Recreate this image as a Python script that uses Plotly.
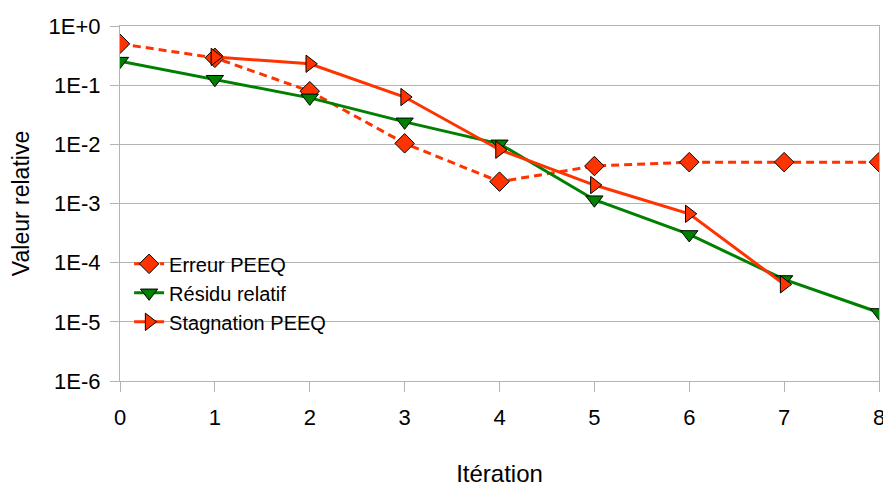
import plotly.graph_objects as go

iterations = [0, 1, 2, 3, 4, 5, 6, 7, 8]
erreur_peeq = [0.50, 0.29, 0.079, 0.0104, 0.00234, 0.0043, 0.0050, 0.0050, 0.0050]
residu_relatif = [0.255, 0.126, 0.061, 0.024, 0.0102, 0.00116, 0.00030, 5.2e-5, 1.44e-5]
stagnation_peeq = [None, 0.30, 0.23, 0.063, 0.0081, 0.00205, 6.7e-4, 4.3e-5, None]

y_tickvals = [1, 1e-1, 1e-2, 1e-3, 1e-4, 1e-5, 1e-6]
y_ticktext = ["1E+0", "1E-1", "1E-2", "1E-3", "1E-4", "1E-5", "1E-6"]
x_ticks = [0, 1, 2, 3, 4, 5, 6, 7, 8]

RED = "#ff3300"
GREEN = "#008000"
FONT = "Liberation Sans, Arial, sans-serif"

fig = go.Figure()
fig.add_trace(go.Scatter(
    x=iterations, y=erreur_peeq, name="Erreur PEEQ", mode="lines+markers",
    line=dict(color=RED, width=3, dash="8px,5px"),
    marker=dict(symbol="diamond", size=15, color=RED, line=dict(color="black", width=1)),
))
fig.add_trace(go.Scatter(
    x=iterations, y=residu_relatif, name="Résidu relatif", mode="lines+markers",
    line=dict(color=GREEN, width=3),
    marker=dict(symbol="triangle-down", size=15, color=GREEN, line=dict(color="black", width=1)),
))
fig.add_trace(go.Scatter(
    x=iterations, y=stagnation_peeq, name="Stagnation PEEQ", mode="lines+markers",
    line=dict(color=RED, width=3),
    marker=dict(symbol="triangle-right", size=15, color=RED, line=dict(color="black", width=1)),
))

fig.update_layout(
    width=883, height=480,
    margin=dict(l=111, r=6, t=12, b=89),
    paper_bgcolor="white", plot_bgcolor="white",
    font=dict(family=FONT, size=20, color="black"),
    showlegend=True,
    legend=dict(x=0.012, y=0.385, xanchor="left", yanchor="top",
                bgcolor="rgba(0,0,0,0)", font=dict(size=20, color="black"),
                tracegroupgap=0, itemwidth=30),
    xaxis=dict(
        range=[0, 8], tickvals=x_ticks, ticktext=[str(v) for v in x_ticks],
        showgrid=False, zeroline=False,
        showline=True, linecolor="#b3b3b3", linewidth=1, mirror=True,
        ticks="outside", ticklen=10, tickcolor="#b3b3b3",
        ticklabelstandoff=7, ticklabeloverflow="allow",
        title=dict(text="Itération", font=dict(size=24), standoff=35),
        tickfont=dict(size=22),
    ),
    yaxis=dict(
        type="log", range=[-6, 0], tickvals=y_tickvals, ticktext=y_ticktext,
        showgrid=True, gridcolor="#b3b3b3", gridwidth=1, zeroline=False,
        showline=True, linecolor="#b3b3b3", linewidth=1, mirror=True,
        ticks="outside", ticklen=9, tickcolor="#b3b3b3",
        ticklabelstandoff=5, ticklabeloverflow="allow",
        title=dict(text="Valeur relative", font=dict(size=23), standoff=18),
        tickfont=dict(size=22),
    ),
)

fig.write_html("out.html")
